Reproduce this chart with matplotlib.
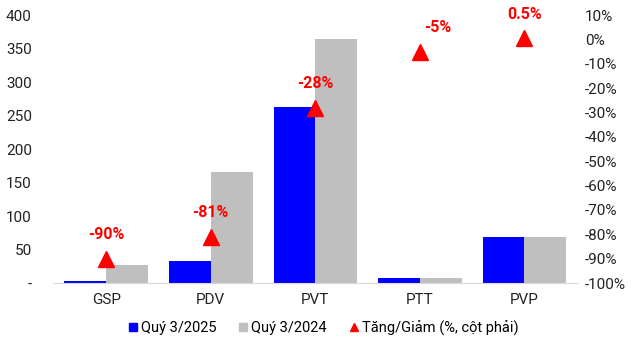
import numpy as np
import matplotlib.pyplot as plt
from matplotlib.ticker import FuncFormatter
from matplotlib.lines import Line2D

plt.rcParams['font.family'] = ['Roboto', 'DejaVu Sans']

categories = ['GSP', 'PDV', 'PVT', 'PTT', 'PVP']
q3_2025 = [3, 33, 263, 7, 69]
q3_2024 = [27, 166, 365, 7, 69]
change_pct = [-90, -81, -28, -5, 0.5]
change_labels = ['-90%', '-81%', '-28%', '-5%', '0.5%']

blue = '#0000FF'
gray = '#BFBFBF'
red = '#FF0000'

fig = plt.figure(figsize=(6.38, 3.52), dpi=100)
ax = fig.add_axes([0.0846, 0.196, 0.8194, 0.761])
x = np.arange(len(categories))
w = 0.4

ax.bar(x - w / 2, q3_2025, w, color=blue, label='Quý 3/2025')
ax.bar(x + w / 2, q3_2024, w, color=gray, label='Quý 3/2024')
ax.set_xlim(-0.5, len(categories) - 0.5)
ax.set_ylim(0, 400)
ax.set_yticks(range(0, 401, 50))
ax.yaxis.set_major_formatter(FuncFormatter(lambda v, p: '-' if v == 0 else f'{int(v)}'))
ax.set_xticks(x)
ax.set_xticklabels(categories)
ax.tick_params(axis='both', length=0, labelsize=11, colors='#222222', pad=7)
ax.tick_params(axis='y', pad=16)
for s in ['top', 'right', 'left']:
    ax.spines[s].set_visible(False)
ax.spines['bottom'].set_color('#D9D9D9')

ax2 = ax.twinx()
ax2.plot(x, change_pct, linestyle='none', marker='^', markersize=11, color=red)
ax2.set_ylim(-100, 10)
ax2.set_yticks(range(-100, 11, 10))
ax2.yaxis.set_major_formatter(FuncFormatter(lambda v, p: f'{int(v)}%'))
ax2.tick_params(axis='y', length=0, labelsize=11, colors='#222222', pad=6)
for s in ['top', 'right', 'left', 'bottom']:
    ax2.spines[s].set_visible(False)

offsets = [(0, 12), (0, 12), (0, 12), (13, 12), (0, 12)]
for xi, yi, lab, off in zip(x, change_pct, change_labels, offsets):
    ax2.annotate(lab, (xi, yi), xytext=off, textcoords='offset points',
                 ha='center', va='bottom', color=red, fontsize=11.5, fontweight='bold')

handles = [
    Line2D([], [], marker='s', linestyle='none', color=blue, markersize=6),
    Line2D([], [], marker='s', linestyle='none', color=gray, markersize=6),
    Line2D([], [], marker='^', linestyle='none', color=red, markersize=6),
]
labels = ['Quý 3/2025', 'Quý 3/2024', 'Tăng/Giảm (%, cột phải)']
fig.legend(handles, labels, loc='center', bbox_to_anchor=(0.505, 0.068), ncol=3,
           frameon=False, fontsize=10.5, handletextpad=0.1, columnspacing=1.4,
           handlelength=0.9)

fig.savefig('out.png', dpi=100)
